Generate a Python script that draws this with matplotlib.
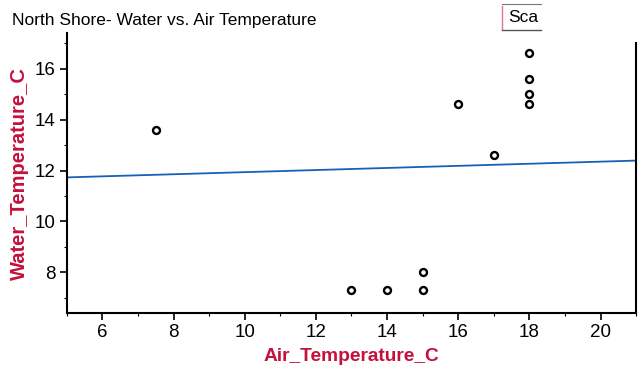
import matplotlib.pyplot as plt
from matplotlib.lines import Line2D
from matplotlib.ticker import MultipleLocator

plt.rcParams['font.family'] = ['Liberation Sans', 'DejaVu Sans']

# Mediciones de North Shore
air_temp = [7.5, 13, 14, 15, 15, 16, 17, 18, 18, 18, 18]
water_temp = [13.6, 7.3, 7.3, 7.3, 8.0, 14.6, 12.6, 16.6, 15.6, 15.0, 14.6]

# Linea movible (extremos)
line_x = [5, 21]
line_y = [11.73, 12.39]

label_red = '#c4103c'

fig = plt.figure(figsize=(6.42, 3.71), dpi=100)
ax = fig.add_axes([0.104, 0.156, 0.887, 0.755])

ax.plot(line_x, line_y, color='#1660b8', lw=1.3, zorder=2)
ax.plot(air_temp, water_temp, 'o', ms=5, mfc='white', mec='black', mew=1.7, zorder=3)

ax.set_xlim(5, 21)
ax.set_ylim(6.4, 17.4)
ax.xaxis.set_major_locator(MultipleLocator(2))
ax.xaxis.set_minor_locator(MultipleLocator(1))
ax.yaxis.set_major_locator(MultipleLocator(2))
ax.yaxis.set_minor_locator(MultipleLocator(1))
ax.tick_params(which='major', length=5, width=1.2, labelsize=13.5, pad=3)
ax.tick_params(which='minor', length=2.5, width=0.8)

ax.spines['top'].set_visible(False)
for s in ['left', 'bottom', 'right']:
    ax.spines[s].set_linewidth(1.5)
ax.spines['right'].set_bounds(6.4, 17.0)

ax.set_xlabel('Air_Temperature_C', color=label_red, fontsize=13.8, fontweight='bold', labelpad=5)
ax.set_ylabel('Water_Temperature_C', color=label_red, fontsize=14.5, fontweight='bold', labelpad=4)

fig.text(12 / 642, 1 - 20 / 371, 'North Shore- Water vs. Air Temperature',
         fontsize=12.5, va='center', ha='left')

# Boton recortado "Sca"
W, H = 642, 371
fig.add_artist(Line2D([502 / W, 502 / W], [1 - 6 / H, 1 - 29 / H], transform=fig.transFigure,
                      color='#e07a8a', lw=1.0))
fig.add_artist(Line2D([502 / W, 541 / W], [1 - 4 / H, 1 - 4 / H], transform=fig.transFigure,
                      color='#777777', lw=0.8))
fig.add_artist(Line2D([502 / W, 541 / W], [1 - 30 / H, 1 - 30 / H], transform=fig.transFigure,
                      color='#555555', lw=1.0))
fig.text(508 / W, 1 - 17 / H, 'Sca', fontsize=12.5, va='center', ha='left')

fig.savefig('out.png', dpi=100)
